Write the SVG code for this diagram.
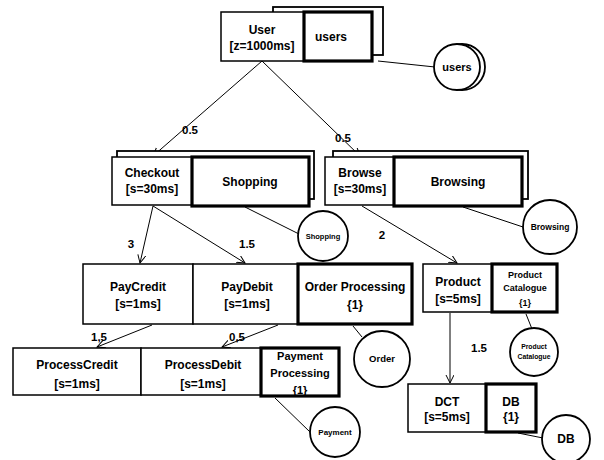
<svg xmlns="http://www.w3.org/2000/svg" width="604" height="460" viewBox="0 0 604 460">
<style>
text{font-family:"Liberation Sans",Arial,sans-serif;font-weight:bold;fill:#000;text-anchor:middle}
.t{font-size:12px}
.b{fill:#fff;stroke:#000;stroke-width:1.5}
.k{fill:#fff;stroke:#000;stroke-width:3.2}
.s{fill:#fff;stroke:#000;stroke-width:1.8}
.c{fill:#fff;stroke:#000;stroke-width:1.8}
.e{stroke:#000;stroke-width:1;fill:none}
.l{font-size:11.5px}
</style>
<defs>
<marker id="a" markerWidth="9" markerHeight="9" refX="8" refY="4" orient="auto" markerUnits="userSpaceOnUse">
<path d="M0,0 L8,4 L0,8" fill="none" stroke="#000" stroke-width="1"/>
</marker>
</defs>
<g id="connectors">
<line class="e" x1="262" y1="61" x2="153" y2="156" marker-end="url(#a)"/>
<line class="e" x1="262" y1="61" x2="360" y2="156" marker-end="url(#a)"/>
<line class="e" x1="153" y1="206" x2="140" y2="263" marker-end="url(#a)"/>
<line class="e" x1="153" y1="206" x2="245" y2="263" marker-end="url(#a)"/>
<line class="e" x1="362" y1="206" x2="457" y2="263" marker-end="url(#a)"/>
<line class="e" x1="152" y1="325" x2="97" y2="347" marker-end="url(#a)"/>
<line class="e" x1="278" y1="325" x2="222" y2="347" marker-end="url(#a)"/>
<line class="e" x1="450" y1="313" x2="450" y2="383" marker-end="url(#a)"/>
<line class="e" x1="378" y1="61" x2="435" y2="67"/>
<line class="e" x1="245" y1="207" x2="299" y2="234"/>
<line class="e" x1="463" y1="207" x2="523" y2="227"/>
<line class="e" x1="353" y1="326" x2="362" y2="337"/>
<line class="e" x1="526" y1="314" x2="532" y2="329"/>
<line class="e" x1="275" y1="398" x2="310" y2="432"/>
<line class="e" x1="518" y1="433" x2="543" y2="438"/>
<text class="l" x="190" y="134">0.5</text>
<text class="l" x="343" y="142">0.5</text>
<text class="l" x="131" y="248">3</text>
<text class="l" x="247" y="248">1.5</text>
<text class="l" x="382" y="239">2</text>
<text class="l" x="99" y="341">1,5</text>
<text class="l" x="237" y="341">0,5</text>
<text class="l" x="479" y="352">1.5</text>
</g>
<g id="user">
<rect class="s" x="273" y="7" width="110" height="48"/>
<rect class="b" x="221" y="12" width="83" height="49"/>
<text class="t" x="262" y="34">User</text>
<text class="t" x="262" y="50">[z=1000ms]</text>
</g>
<g id="users-box">
<rect class="k" x="304" y="12" width="68" height="49"/>
<text class="t" x="315" y="41" style="text-anchor:start">users</text>
</g>
<g id="users-circle">
<circle class="c" cx="462" cy="67" r="23"/>
<circle class="c" cx="457" cy="67" r="23"/>
<text x="457" y="71" style="font-size:11px">users</text>
</g>
<g id="checkout">
<rect class="s" x="117" y="151" width="197" height="48"/>
<rect class="b" x="112" y="157" width="80" height="48"/>
<text class="t" x="152" y="177">Checkout</text>
<text class="t" x="152" y="193">[s=30ms]</text>
</g>
<g id="shopping-box">
<rect class="k" x="192" y="157" width="117" height="49"/>
<text class="t" x="250" y="186">Shopping</text>
</g>
<g id="shopping-circle">
<circle class="c" cx="323" cy="236" r="25"/>
<text x="323" y="239" style="font-size:7.5px">Shopping</text>
</g>
<g id="browse">
<rect class="s" x="333" y="151" width="195" height="48"/>
<rect class="b" x="325" y="157" width="69" height="48"/>
<text class="t" x="360" y="177">Browse</text>
<text class="t" x="360" y="193">[s=30ms]</text>
</g>
<g id="browsing-box">
<rect class="k" x="394" y="157" width="128" height="49"/>
<text class="t" x="458" y="186">Browsing</text>
</g>
<g id="browsing-circle">
<circle class="c" cx="550" cy="227" r="27"/>
<text x="550" y="230" style="font-size:8.5px">Browsing</text>
</g>
<g id="paycredit">
<rect class="b" x="83" y="264" width="110" height="60"/>
<text class="t" x="138" y="291">PayCredit</text>
<text class="t" x="138" y="308">[s=1ms]</text>
</g>
<g id="paydebit">
<rect class="b" x="193" y="264" width="105" height="60"/>
<text class="t" x="247" y="291">PayDebit</text>
<text class="t" x="247" y="308">[s=1ms]</text>
</g>
<g id="order-processing">
<rect class="k" x="298" y="264" width="114" height="60"/>
<text class="t" x="355" y="291">Order Processing</text>
<text class="t" x="355" y="309">{1}</text>
</g>
<g id="order-circle">
<circle class="c" cx="382" cy="359" r="28"/>
<text x="382" y="362" style="font-size:9.5px">Order</text>
</g>
<g id="product">
<rect class="b" x="423" y="264" width="69" height="48"/>
<text class="t" x="458" y="286">Product</text>
<text class="t" x="458" y="303">[s=5ms]</text>
</g>
<g id="product-catalogue">
<rect class="k" x="492" y="264" width="65" height="48"/>
<text x="525" y="278" style="font-size:9px">Product</text>
<text x="525" y="291" style="font-size:9px">Catalogue</text>
<text x="525" y="306" style="font-size:9px">{1}</text>
</g>
<g id="product-catalogue-circle">
<circle class="c" cx="534" cy="352" r="24"/>
<text x="534" y="349" style="font-size:6.8px">Product</text>
<text x="534" y="359" style="font-size:6.8px">Catalogue</text>
</g>
<g id="processcredit">
<rect class="b" x="13" y="348" width="128" height="47"/>
<text class="t" x="77" y="369">ProcessCredit</text>
<text class="t" x="77" y="388">[s=1ms]</text>
</g>
<g id="processdebit">
<rect class="b" x="141" y="348" width="120" height="47"/>
<text class="t" x="203" y="369">ProcessDebit</text>
<text class="t" x="203" y="388">[s=1ms]</text>
</g>
<g id="payment-processing">
<rect class="k" x="261" y="348" width="78" height="48"/>
<text x="300" y="360" style="font-size:11px">Payment</text>
<text x="300" y="377" style="font-size:11px">Processing</text>
<text x="300" y="394" style="font-size:11px">{1}</text>
</g>
<g id="payment-circle">
<circle class="c" cx="335" cy="432" r="25"/>
<text x="335" y="435" style="font-size:8px">Payment</text>
</g>
<g id="dct">
<rect class="b" x="408" y="384" width="78" height="48"/>
<text class="t" x="447" y="406">DCT</text>
<text class="t" x="447" y="421">[s=5ms]</text>
</g>
<g id="db">
<rect class="k" x="486" y="384" width="50" height="48"/>
<text class="t" x="511" y="406">DB</text>
<text class="t" x="511" y="421">{1}</text>
</g>
<g id="db-circle">
<circle class="c" cx="566" cy="439" r="24"/>
<text x="566" y="443" style="font-size:12px">DB</text>
</g>
</svg>
